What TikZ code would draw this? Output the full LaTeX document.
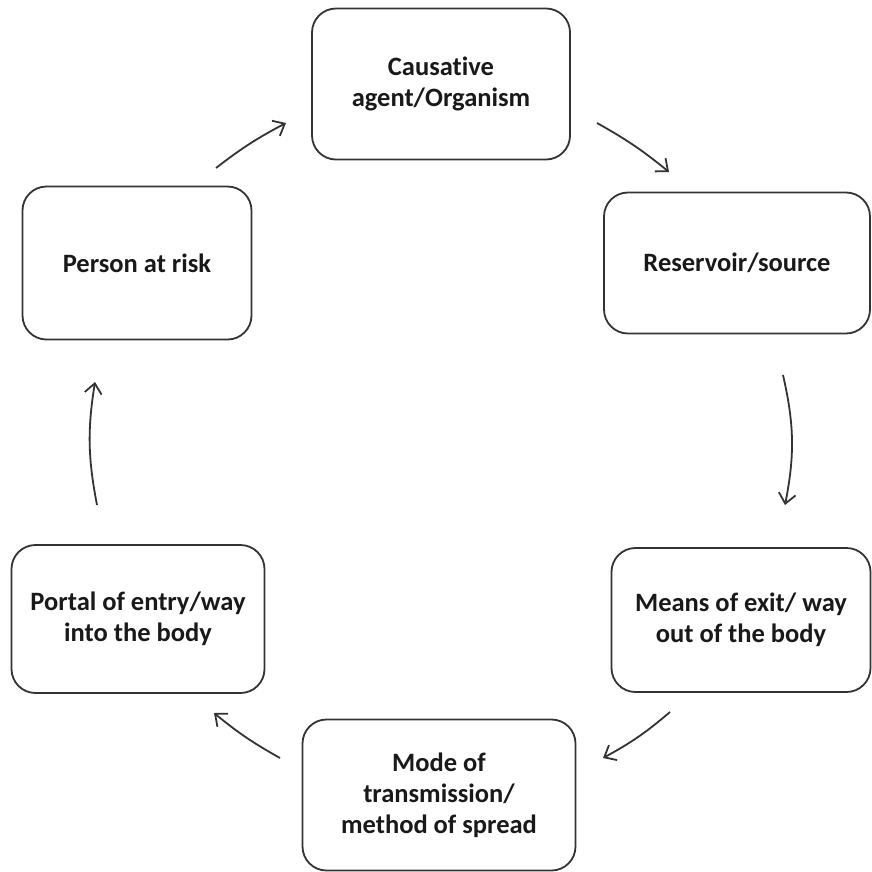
\documentclass[tikz,border=0pt]{standalone}
\usepackage{fontspec}
\setmainfont{Carlito}[Ligatures=NoCommon]
\usetikzlibrary{arrows.meta}

\begin{document}
\begin{tikzpicture}[x=1pt,y=-1pt,>={Straight Barb[length=10pt,width=17pt]},
stage/.style ={rectangle, draw=black!80, line width=1.8pt, rounded corners=24pt, align=center, inner sep=0pt, text=black!90, font=\fontsize{26.5}{31}\selectfont\bfseries},
flow/.style ={->, draw=black!80, line width=1.8pt}
]
\useasboundingbox (0,0) rectangle (872,871);
\draw (441,84) node[stage, minimum width=258pt, minimum height=151pt] (agent) {Causative\\agent/Organism};
\draw (737,263) node[stage, minimum width=266pt, minimum height=141pt] (reservoir) {Reservoir/source};
\draw (741,620) node[stage, minimum width=259pt, minimum height=144pt] (exit) {Means of exit/ way\\out of the body};
\draw (439,795) node[stage, minimum width=273pt, minimum height=151pt] (mode) {Mode of\\transmission/\\method of spread};
\draw (138,619) node[stage, minimum width=253pt, minimum height=148pt] (entry) {Portal of entry/way\\into the body};
\draw (137,263) node[stage, minimum width=229pt, minimum height=153pt] (person) {Person at risk};
% arrow ends
\coordinate (a1) at (216,168);
\coordinate (b1) at (286,123);
\coordinate (a2) at (597,123);
\coordinate (b2) at (669,172);
\coordinate (a3) at (783,375);
\coordinate (b3) at (785,505);
\coordinate (a4) at (670,712);
\coordinate (b4) at (603,758);
\coordinate (a5) at (280,758);
\coordinate (b5) at (214,713);
\coordinate (a6) at (97,505);
\coordinate (b6) at (95,382);
\draw[flow] (a1) to[bend left=5] (b1);
\draw[flow] (a2) to[bend left=5] (b2);
\draw[flow] (a3) to[bend left=12] (b3);
\draw[flow] (a4) to[bend left=6] (b4);
\draw[flow] (a5) to[bend left=5] (b5);
\draw[flow] (a6) to[bend left=10] (b6);
\end{tikzpicture}
\end{document}
